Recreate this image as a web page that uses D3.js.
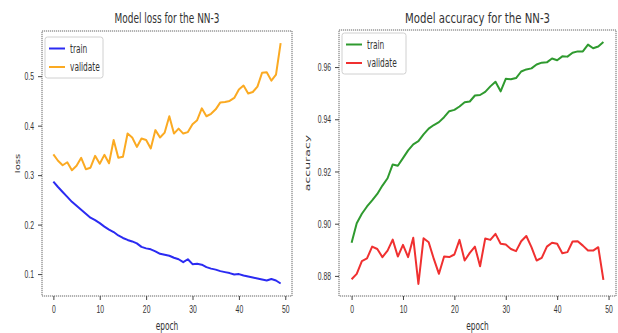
<!DOCTYPE html>
<html>
<head>
<meta charset="utf-8">
<script src="https://cdn.jsdelivr.net/npm/d3@7"></script>
<style>
  html, body { margin: 0; padding: 0; background: #fff; }
  svg { display: block; font-family: "DejaVu Sans", sans-serif; }
</style>
</head>
<body>
<svg id="chart" width="618" height="333"></svg>
<script>
// epochs 0..49
const epochs = d3.range(50);

const lossTrain = [0.287, 0.276, 0.266, 0.256, 0.246, 0.238, 0.230, 0.222, 0.214, 0.209,
  0.203, 0.196, 0.190, 0.185, 0.178, 0.173, 0.169, 0.166, 0.162, 0.155,
  0.152, 0.150, 0.146, 0.141, 0.139, 0.137, 0.133, 0.130, 0.124, 0.130,
  0.120, 0.121, 0.119, 0.114, 0.111, 0.109, 0.106, 0.104, 0.102, 0.099,
  0.100, 0.097, 0.095, 0.093, 0.091, 0.089, 0.087, 0.090, 0.087, 0.081];

const lossVal = [0.342, 0.329, 0.320, 0.326, 0.310, 0.319, 0.335, 0.312, 0.315, 0.339,
  0.323, 0.341, 0.324, 0.371, 0.335, 0.337, 0.384, 0.376, 0.357, 0.374,
  0.371, 0.354, 0.391, 0.376, 0.386, 0.419, 0.384, 0.394, 0.384, 0.387,
  0.403, 0.411, 0.435, 0.419, 0.424, 0.433, 0.447, 0.448, 0.450, 0.456,
  0.473, 0.481, 0.465, 0.468, 0.479, 0.507, 0.508, 0.491, 0.503, 0.567];

const accTrain = [0.8927, 0.9002, 0.9038, 0.9066, 0.9089, 0.9114, 0.9146, 0.9174, 0.9227, 0.9222,
  0.9251, 0.9281, 0.9304, 0.9316, 0.9342, 0.9364, 0.9378, 0.9389, 0.9408, 0.9431,
  0.9436, 0.9449, 0.9465, 0.9468, 0.9491, 0.9493, 0.9505, 0.9526, 0.9544, 0.9507,
  0.9555, 0.9553, 0.9558, 0.9583, 0.9591, 0.9595, 0.9610, 0.9617, 0.9618, 0.9633,
  0.9626, 0.9641, 0.9640, 0.9655, 0.9660, 0.9660, 0.9686, 0.9672, 0.9679, 0.9696];

const accVal = [0.8787, 0.8808, 0.8857, 0.8867, 0.8912, 0.8903, 0.8872, 0.8897, 0.8939, 0.8874,
  0.8919, 0.8872, 0.8946, 0.8769, 0.8944, 0.8929, 0.8865, 0.8808, 0.8874, 0.8872,
  0.8882, 0.8938, 0.8859, 0.8888, 0.8912, 0.8837, 0.8943, 0.8938, 0.8961, 0.8923,
  0.8920, 0.8903, 0.8895, 0.8933, 0.8953, 0.8910, 0.8859, 0.8869, 0.8912, 0.8927,
  0.8923, 0.8887, 0.8891, 0.8932, 0.8933, 0.8916, 0.8897, 0.8897, 0.8910, 0.8785];

const xTicks = [0, 10, 20, 30, 40, 50];
const lossTicks = [0.1, 0.2, 0.3, 0.4, 0.5];
const accTicks = [0.88, 0.90, 0.92, 0.94, 0.96];

const SX = 0.62; // the picture is squeezed sideways, text too
const svg = d3.select("#chart");

function squish(sel, x, y, sx) {
  return sel.attr("transform", "translate(" + x + "," + y + ") scale(" + sx + ",1)");
}

function drawPanel(p) {
  const x = d3.scaleLinear().domain([-2.45, 51.45]).range([p.left, p.right]);
  const y = d3.scaleLinear().domain(p.yDomain).range([p.bottom, p.top]);

  // frame
  svg.append("rect")
    .attr("x", p.left).attr("y", p.top)
    .attr("width", p.right - p.left).attr("height", p.bottom - p.top)
    .attr("fill", "none").attr("stroke", "#666")
    .attr("stroke-width", 1).attr("stroke-dasharray", "1.2,0.8");

  // x axis
  svg.append("g")
    .attr("transform", "translate(0," + p.bottom + ")")
    .call(d3.axisBottom(x).tickValues(xTicks).tickSize(4).tickPadding(5))
    .call(g => g.select(".domain").remove())
    .call(g => g.selectAll("line").attr("stroke", "#444"))
    .call(g => g.selectAll("text")
      .attr("fill", "#333").attr("font-size", "11px")
      .attr("transform", "scale(" + SX + ",1)"));

  // y axis
  svg.append("g")
    .attr("transform", "translate(" + p.left + ",0)")
    .call(d3.axisLeft(y).tickValues(p.yTicks).tickFormat(d3.format(p.fmt)).tickSize(4).tickPadding(4))
    .call(g => g.select(".domain").remove())
    .call(g => g.selectAll("line").attr("stroke", "#444"))
    .call(g => g.selectAll("text")
      .attr("fill", "#333").attr("font-size", "11px")
      .attr("x", -8 / SX)
      .attr("transform", "scale(" + SX + ",1)"));

  // lines
  const line = d3.line().x((d, i) => x(epochs[i])).y(d => y(d));
  p.series.forEach(s => {
    svg.append("path")
      .datum(s.values)
      .attr("d", line)
      .attr("fill", "none")
      .attr("stroke", s.color)
      .attr("stroke-width", 2)
      .attr("stroke-linejoin", "round");
  });

  // title
  svg.append("text")
    .attr("x", (p.left + p.right) / 2).attr("y", 23)
    .attr("text-anchor", "middle")
    .attr("font-size", "14px").attr("fill", "#333")
    .attr("textLength", p.titleWidth).attr("lengthAdjust", "spacingAndGlyphs")
    .text(p.title);

  // x label
  squish(svg.append("text"), (p.left + p.right) / 2, 330, SX)
    .attr("text-anchor", "middle")
    .attr("font-size", "12px").attr("fill", "#333")
    .text("epoch");

  // y label
  svg.append("text")
    .attr("transform", "translate(" + p.ylabelX + "," + ((p.top + p.bottom) / 2) + ") scale(" + SX + ",1) rotate(-90)")
    .attr("text-anchor", "middle")
    .attr("font-size", p.ylabelSize).attr("fill", "#333")
    .text(p.ylabel);

  // legend
  const lg = svg.append("g").attr("transform", "translate(" + p.legendX + "," + p.legendY + ")");
  lg.append("rect")
    .attr("width", p.legendW).attr("height", 41)
    .attr("rx", 2.5)
    .attr("fill", "#fff").attr("fill-opacity", 0.8)
    .attr("stroke", "#d0d0d0");
  p.series.forEach((s, i) => {
    const yy = 11.5 + i * 18.5;
    lg.append("line")
      .attr("x1", 4).attr("x2", 20).attr("y1", yy).attr("y2", yy)
      .attr("stroke", s.color).attr("stroke-width", 2);
    squish(lg.append("text"), 25, yy + 4, SX)
      .attr("font-size", "12px").attr("fill", "#333")
      .text(s.name);
  });
}

drawPanel({
  left: 42, right: 292, top: 31, bottom: 296,
  yDomain: [0.0557, 0.5913], yTicks: lossTicks, fmt: ".1f",
  title: "Model loss for the NN-3", titleWidth: 105,
  ylabel: "loss", ylabelX: 20, ylabelSize: "10px",
  legendX: 45, legendY: 37, legendW: 58,
  series: [
    { name: "train", values: lossTrain, color: "#2b2bf2" },
    { name: "validate", values: lossVal, color: "#fbaa22" }
  ]
});

drawPanel({
  left: 339, right: 616, top: 30, bottom: 296,
  yDomain: [0.8723, 0.9742], yTicks: accTicks, fmt: ".2f",
  title: "Model accuracy for the NN-3", titleWidth: 145,
  ylabel: "accuracy", ylabelX: 310, ylabelSize: "12.5px",
  legendX: 342, legendY: 33, legendW: 64,
  series: [
    { name: "train", values: accTrain, color: "#2f9a2f" },
    { name: "validate", values: accVal, color: "#f03030" }
  ]
});
</script>
</body>
</html>
